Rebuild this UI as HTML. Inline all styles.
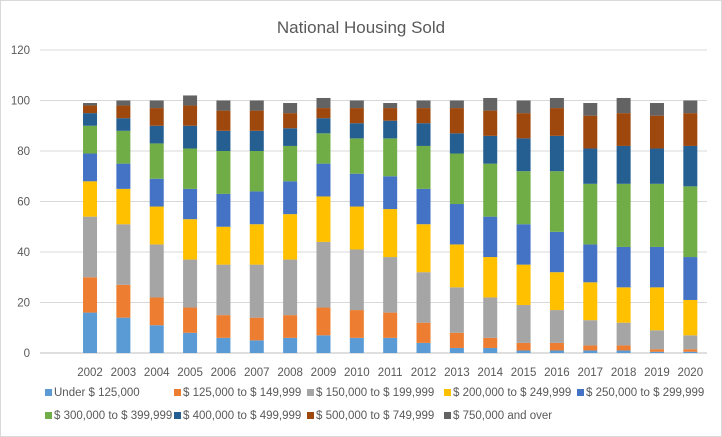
<!DOCTYPE html>
<html><head><meta charset="utf-8"><style>
body{margin:0;background:#fff;}
svg{display:block;font-family:"Liberation Sans",sans-serif;}
</style></head><body>
<svg id="chart" width="722" height="437">
<rect x="0.5" y="0.5" width="721" height="436" fill="#fff" stroke="#d9d9d9"/>
<text x="361" y="33" text-anchor="middle" font-size="17" fill="#595959">National Housing Sold</text>
<g id="grid"></g><g id="bars"></g><g id="axes"></g><g id="legend"></g>
</svg>
<script>
const years = ["2002","2003","2004","2005","2006","2007","2008","2009","2010","2011","2012","2013","2014","2015","2016","2017","2018","2019","2020"];
const seriesNames = ["Under $ 125,000","$ 125,000 to  $ 149,999","$ 150,000 to  $ 199,999","$ 200,000 to  $ 249,999","$ 250,000 to  $ 299,999","$ 300,000 to  $ 399,999","$ 400,000 to  $ 499,999","$ 500,000 to  $ 749,999","$ 750,000 and  over"];
const s0 = [16,14,11,8,6,5,6,7,6,6,4,2,2,1,1,1,1,0.5,0.5];
const s1 = [14,13,11,10,9,9,9,11,11,10,8,6,4,3,3,2,2,1,1];
const s2 = [24,24,21,19,20,21,22,26,24,22,20,18,16,15,13,10,9,7.5,5.5];
const s3 = [14,14,15,16,15,16,18,18,17,19,19,17,16,16,15,15,14,17,14];
const s4 = [11,10,11,12,13,13,13,13,13,13,14,16,16,16,16,15,16,16,17];
const s5 = [11,13,14,16,17,16,14,12,14,15,17,20,21,21,24,24,25,25,28];
const s6 = [5,5,7,9,8,8,7,6,6,7,9,8,11,13,14,14,15,14,16];
const s7 = [3,5,7,8,8,8,6,4,6,5,6,10,10,10,11,13,13,13,13];
const s8 = [1,2,3,4,4,4,4,4,3,2,3,3,5,5,4,5,6,5,5];
const series = [s0,s1,s2,s3,s4,s5,s6,s7,s8];
const colors = ["#5b9bd5","#ed7d31","#a5a5a5","#ffc000","#4472c4","#70ad47","#255e91","#9e480e","#636363"];
const yTicks = [0,20,40,60,80,100,120];

const NS="http://www.w3.org/2000/svg";
const px0=40, px1=707, py0=353, py1=50, yMax=120;
const slots = years.length+1;
const slotW=(px1-px0)/slots;
const y=v=>py0-(v/yMax)*(py0-py1);
const xc=i=>px0+slotW*(i+1.5);
function mk(tag,attrs,parent){const e=document.createElementNS(NS,tag);for(const k in attrs)e.setAttribute(k,attrs[k]);parent.appendChild(e);return e;}
const grid=document.getElementById('grid'),bars=document.getElementById('bars'),axes=document.getElementById('axes'),leg=document.getElementById('legend');
yTicks.forEach(t=>{
  const l=mk('line',{x1:px0,x2:px1,y1:y(t),y2:y(t),stroke:t===0?'#bfbfbf':'#d9d9d9','stroke-width':1},grid);
  
  
  const tx=mk('text',{x:30,y:y(t)+4,'text-anchor':'end','font-size':11.5,fill:'#595959'},axes);
  tx.textContent=t;
  
  
});
years.forEach((yr,i)=>{
  let cum=0;
  series.forEach((s,k)=>{
    const v=s[i];
    const r=mk('rect',{x:xc(i)-7,width:14,y:y(cum+v),height:Math.max(0,y(cum)-y(cum+v)),fill:colors[k]},bars);
    
    
    cum+=v;
  });
  const tx=mk('text',{x:xc(i),y:376,'text-anchor':'middle','font-size':11.5,fill:'#595959'},axes);
  tx.textContent=yr;
  
  
});
const legX=[45,174,307,444,577];
seriesNames.forEach((n,k)=>{
  const row=k<5?0:1, col=k<5?k:k-5;
  const g=mk('g',{},leg);
  
  
  const lx=legX[col], ly=row?419:396;
  mk('rect',{x:lx,y:ly-7,width:7,height:7,fill:colors[k]},g);
  const t=mk('text',{x:lx+9,y:ly,'font-size':11.5,fill:'#595959','xml:space':'preserve'},g);
  t.textContent=n;
});
</script>
</body></html>
